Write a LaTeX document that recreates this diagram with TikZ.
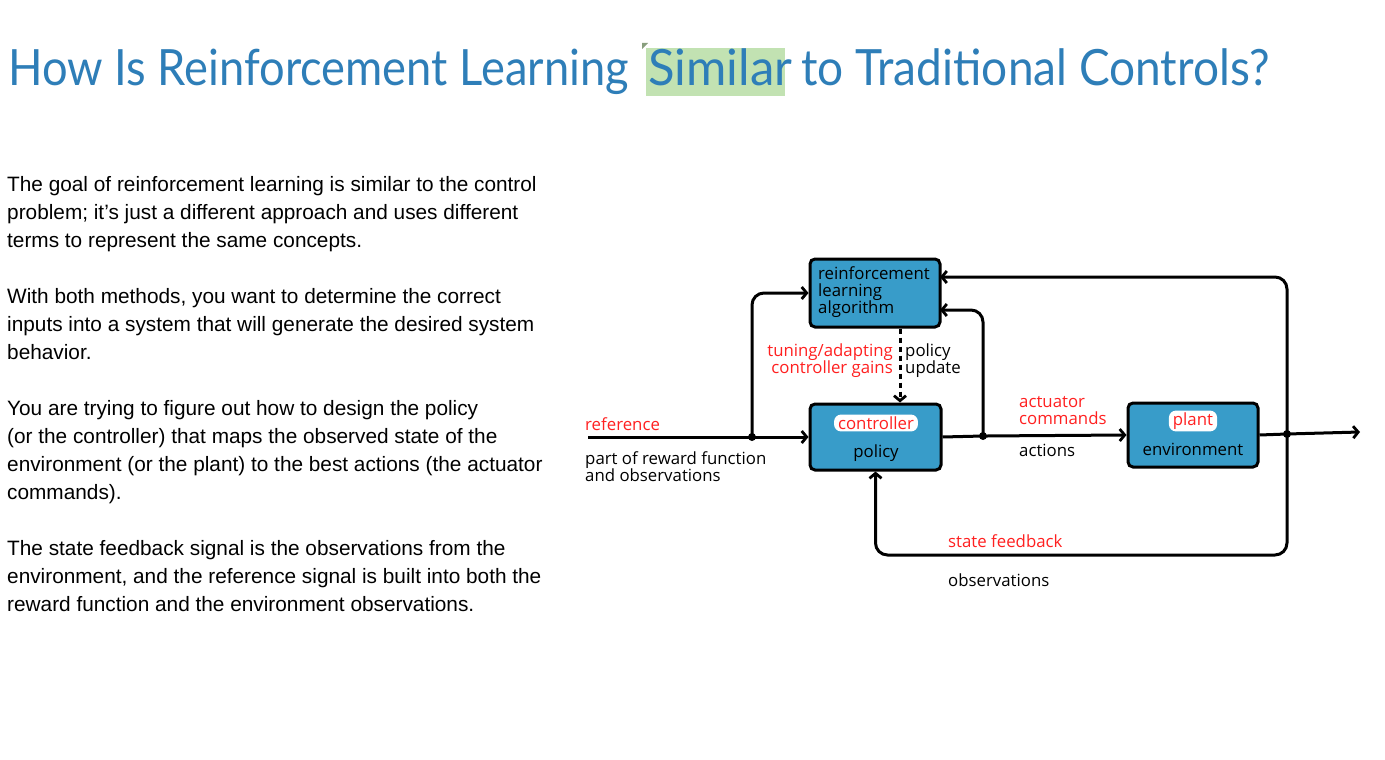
\documentclass[tikz,border=0pt]{standalone}
\usepackage{fontspec}
\setmainfont{Liberation Sans}
\newfontfamily\titlefont{Lato}
\newfontfamily\handfont{Open Sans}
\usetikzlibrary{arrows.meta}
\definecolor{titleblue}{HTML}{2E7EB8}
\definecolor{boxblue}{HTML}{389CC9}
\definecolor{hlgreen}{HTML}{C2E2B2}
\definecolor{lred}{HTML}{FF2020}
\tikzset{
  blk/.style={draw=black, line width=3pt, fill=boxblue, rounded corners=5pt, inner sep=0pt},
  wire/.style={draw, line width=3pt, rounded corners=12pt, -{Straight Barb[length=5pt,width=12pt,line width=2.8pt]}},
  lbl/.style={font=\handfont\fontsize{16.8}{17}\selectfont, inner sep=0pt, align=left},
  redlbl/.style={lbl, text=lred},
  pill/.style={lbl, fill=white, text=lred, rounded corners=7pt, inner xsep=4pt, inner ysep=2pt},
  body/.style={font=\fontsize{20.8}{28}\selectfont, inner sep=0pt, anchor=base west},
  ttl/.style={font=\titlefont\fontsize{50}{60}\selectfont, text=titleblue, inner sep=0pt, anchor=base west},
  dot/.style={fill=black, circle, inner sep=0pt, minimum size=8pt}
}
\begin{document}
\begin{tikzpicture}[x=1pt,y=-1pt]
\useasboundingbox[fill=white] (0,0) rectangle (1385,760);
% title
\fill[hlgreen] (646,48) rectangle (785,96);
\fill[hlgreen!70!black] (642,43) -- (648,43) -- (642,49) -- cycle;
\node[ttl] (t1) at (8,85) {\scalebox{0.905}[1]{How Is Reinforcement Learning}};
\node[ttl] (t2) at (648,85) {\scalebox{0.98}[1]{Similar}};
\node[ttl] (t3) at (801,85) {\scalebox{0.92}[1]{to Traditional Controls?}};
% body text
\node[body] (p1a) at (7,191) {The goal of reinforcement learning is similar to the control};
\node[body] (p1b) at (7,219) {problem; it’s just a different approach and uses different};
\node[body] (p1c) at (7,247) {terms to represent the same concepts.};
\node[body] (p2a) at (7,303) {With both methods, you want to determine the correct};
\node[body] (p2b) at (7,331) {inputs into a system that will generate the desired system};
\node[body] (p2c) at (7,359) {behavior.};
\node[body] (p3a) at (7,415) {You are trying to figure out how to design the policy};
\node[body] (p3b) at (7,443) {(or the controller) that maps the observed state of the};
\node[body] (p3c) at (7,471) {environment (or the plant) to the best actions (the actuator};
\node[body] (p3d) at (7,499) {commands).};
\node[body] (p4a) at (7,555) {The state feedback signal is the observations from the};
\node[body] (p4b) at (7,583) {environment, and the reference signal is built into both the};
\node[body] (p4c) at (7,611) {reward function and the environment observations.};
% boxes
\node[blk, minimum width=130pt, minimum height=68pt] (rl) at (875,293) {};
\node[lbl, anchor=west] (rlt) at (818,292) {reinforcement\\learning\\algorithm};
\node[blk, minimum width=131pt, minimum height=66pt] (ctrl) at (875.5,437) {};
\node[pill] (ctrlt) at (876,423) {controller};
\node[lbl] (pol) at (876,453) {policy};
\node[blk, minimum width=130pt, minimum height=64pt] (plant) at (1193,435) {};
\node[pill] (plantt) at (1193,421) {plant};
\node[lbl] (env) at (1193,449) {environment};
% coordinates
\coordinate (in) at (588,437);
\coordinate (j1) at (752,437);
\coordinate (j2) at (983,436);
\coordinate (j3) at (1287,434);
\coordinate (out) at (1360,432);
\coordinate (rlr1) at (940,277);
\coordinate (rlr2) at (940,310);
\coordinate (dx) at (900,0);
\coordinate (fb) at (1287,555);
% wires
\draw[wire] (in) -- (ctrl.west);
\draw[wire] (j1) |- (rl.west);
\draw[wire] (ctrl.east) -- (j2) -- (plant.west);
\draw[wire] (j2) |- (rlr2);
\draw[wire, dash pattern=on 5pt off 4pt] (rl.south -| dx) -- (ctrl.north -| dx);
\draw[wire] (plant.east) -- (j3) -- (out);
\draw[wire] (j3) |- (rlr1);
\draw[wire] (j3) -- (fb) -| (ctrl.south);
\node[dot] (d1) at (j1) {};
\node[dot] (d2) at (j2) {};
\node[dot] (d3) at (j3) {};
% labels
\node[redlbl, anchor=west] (ref) at (585,424) {reference};
\node[lbl, anchor=west] (prf) at (585,467) {part of reward function\\and observations};
\node[redlbl, anchor=east, align=right] (tun) at (893,361) {tuning/adapting\\controller gains};
\node[lbl, anchor=west] (pu) at (905,361) {policy\\update};
\node[redlbl, anchor=west] (act) at (1019,411) {actuator\\commands};
\node[lbl, anchor=west] (acts) at (1019,450) {actions};
\node[redlbl, anchor=west] (sf) at (948,541) {state feedback};
\node[lbl, anchor=west] (obs) at (948,580) {observations};
\end{tikzpicture}
\end{document}
